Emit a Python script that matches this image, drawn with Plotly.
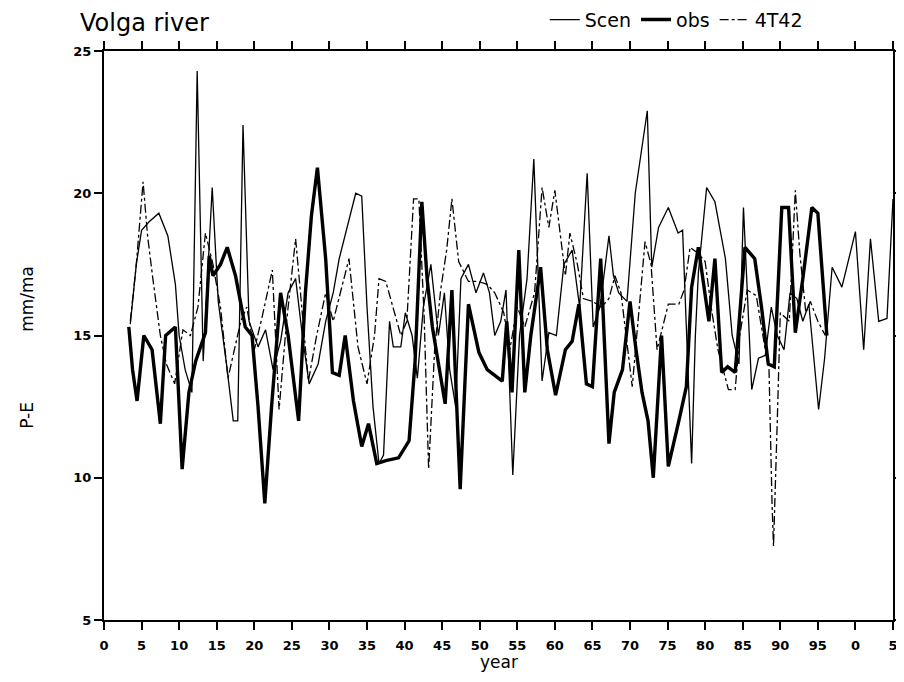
import plotly.graph_objects as go

# ---- data (years since 1900, P-E in mm/ma) ----
obs_years = [3.3, 3.8, 4.4, 5.3, 6.4, 7.5, 8.2, 9.5, 10.4, 11.3, 12.2, 13.5, 14.0, 14.5, 15.5, 16.4,
             17.5, 18.8, 19.7, 20.5, 21.4, 22.3, 23.5, 24.5, 25.9, 26.8, 27.6, 28.4, 29.5, 30.4, 31.3,
             32.1, 33.2, 34.3, 35.2, 36.3, 37.5, 39.2, 40.6, 41.4, 42.3, 43.0, 43.7, 44.5, 45.4, 46.3,
             46.8, 47.4, 48.5, 49.9, 51.0, 52.1, 53.0, 53.6, 54.3, 55.2, 56.0, 56.8, 58.1, 59.0, 60.1,
             61.4, 62.3, 63.2, 64.2, 65.0, 66.1, 67.2, 67.9, 69.0, 70.0, 70.8, 71.6, 72.4, 73.1, 74.2,
             75.1, 76.5, 77.5, 78.2, 79.1, 80.5, 81.3, 82.2, 83.0, 84.0, 85.3, 86.6, 87.5, 88.4, 89.2,
             90.2, 91.1, 92.0, 93.0, 94.2, 95.0, 96.2]
obs_vals = [15.3, 13.8, 12.7, 15.0, 14.5, 11.9, 15.0, 15.3, 10.3, 13.0, 14.1, 15.1, 17.8, 17.1, 17.5, 18.1,
            17.1, 15.3, 15.0, 12.5, 9.1, 12.5, 16.5, 15.0, 12.0, 16.5, 19.2, 20.9, 17.7, 13.7, 13.6,
            15.0, 12.7, 11.1, 11.9, 10.5, 10.6, 10.7, 11.3, 14.1, 19.7, 17.0, 15.3, 14.0, 12.6, 16.6,
            13.5, 9.6, 16.1, 14.4, 13.8, 13.6, 13.4, 15.5, 13.0, 18.0, 13.0, 15.0, 17.4, 14.5, 12.9,
            14.5, 14.8, 16.1, 13.3, 13.2, 17.7, 11.2, 13.0, 13.8, 16.2, 14.5, 13.0, 12.0, 10.0, 15.0,
            10.4, 12.0, 13.2, 16.7, 18.1, 15.5, 17.7, 13.7, 13.9, 13.7, 18.1, 17.7, 16.0, 14.0, 13.9,
            19.5, 19.5, 15.1, 17.0, 19.5, 19.3, 15.0]

scen_years = [3.5, 4.3, 5.0, 6.0, 7.3, 8.5, 9.5, 10.0, 10.8, 11.7, 12.4, 13.2, 14.4, 15.2, 16.3, 17.2,
              17.8, 18.5, 19.3, 20.5, 21.5, 22.5, 23.5, 24.5, 25.5, 26.4, 27.3, 28.5, 29.5, 30.5, 31.3,
              32.5, 33.5, 34.3, 35.0, 35.8, 36.6, 37.2, 38.0, 38.5, 39.5, 40.1, 41.0, 41.7, 42.5, 43.5,
              44.5, 45.3, 46.0, 46.8, 47.5, 48.5, 49.5, 50.5, 51.3, 52.0, 52.8, 53.5, 54.0, 54.4, 55.3,
              56.3, 57.2, 58.3, 59.2, 60.2, 61.2, 62.3, 63.3, 64.3, 65.1, 66.0, 67.2, 67.8, 68.5, 69.6,
              70.7, 71.5, 72.3, 72.9, 73.8, 75.1, 76.4, 77.0, 77.7, 78.2, 78.7, 79.1, 80.2, 81.3, 82.7,
              83.6, 84.5, 85.1, 86.2, 87.1, 88.0, 88.8, 89.6, 90.5, 91.3, 92.2, 93.0, 93.8, 95.1, 95.9,
              96.9, 98.2, 100.0, 101.1, 102.0, 103.1, 104.2, 105.0]
scen_vals = [15.4, 17.5, 18.7, 19.0, 19.3, 18.5, 16.8, 15.0, 13.8, 13.0, 24.3, 14.1, 20.2, 16.2, 14.0, 12.0,
             12.0, 22.4, 15.5, 14.6, 15.2, 13.8, 14.8, 16.5, 17.0, 15.0, 13.3, 14.0, 15.5, 16.5, 17.7,
             19.0, 20.0, 19.9, 16.0, 12.5, 10.5, 10.8, 15.5, 14.6, 14.6, 15.8, 15.0, 13.5, 16.0, 17.5,
             15.0, 16.5, 13.8, 12.5, 17.0, 17.5, 16.5, 17.2, 16.5, 15.0, 15.5, 16.6, 13.0, 10.1, 15.0,
             17.0, 21.2, 13.4, 15.1, 15.0, 17.5, 18.0, 16.0, 20.7, 15.3, 16.0, 18.5, 17.1, 16.5, 16.2,
             20.0, 21.5, 22.9, 17.4, 18.8, 19.5, 18.6, 18.7, 14.0, 10.5, 15.0, 17.2, 20.2, 19.7, 17.7,
             15.0, 14.0, 19.5, 13.1, 14.2, 14.3, 16.0, 15.0, 14.5, 16.5, 16.3, 15.5, 16.1, 12.4, 14.2,
             17.4, 16.7, 18.65, 14.5, 18.4, 15.5, 15.6, 19.8]

t42_years = [3.5, 4.3, 5.2, 5.8, 6.5, 7.5, 8.3, 9.4, 10.5, 11.5, 12.5, 13.5, 14.5, 15.5, 16.5, 17.3,
             18.2, 19.0, 20.0, 21.0, 22.4, 23.3, 24.3, 25.5, 26.3, 27.2, 28.3, 29.5, 30.5, 31.5, 32.6,
             33.8, 35.0, 36.0, 36.6, 37.5, 38.6, 39.5, 40.3, 41.2, 41.9, 42.6, 43.2, 44.0, 44.8, 45.6,
             46.3, 47.2, 48.5, 49.8, 51.0, 52.0, 53.2, 54.0, 55.0, 56.0, 57.3, 58.3, 59.2, 60.0, 61.4,
             62.0, 63.0, 63.8, 65.0, 66.2, 67.2, 68.0, 68.8, 70.3, 72.0, 72.8, 73.6, 75.1, 76.5, 77.2,
             78.0, 79.0, 80.0, 80.8, 81.7, 83.1, 84.0, 84.6, 85.6, 86.8, 88.0, 88.5, 88.9, 89.1, 89.6,
             90.0, 91.2, 92.0, 92.6, 93.4, 94.0, 95.0, 96.0]
t42_vals = [15.5, 17.5, 20.4, 18.5, 17.0, 15.0, 14.0, 13.3, 15.2, 15.0, 16.0, 18.6, 17.5, 16.0, 13.5, 14.5,
            15.5, 16.0, 14.5, 15.6, 17.3, 12.4, 15.5, 18.4, 16.0, 13.4, 15.0, 16.5, 15.5, 16.5, 17.7,
            14.6, 13.3, 15.0, 17.0, 16.9, 15.8, 15.0, 15.5, 19.8, 19.8, 15.7, 10.3, 14.5, 16.6, 18.0,
            19.8, 17.6, 16.9, 16.9, 16.8, 16.5, 15.8, 14.5, 16.0, 15.3, 16.5, 20.2, 18.8, 20.1, 17.1,
            18.6, 17.5, 16.3, 16.2, 16.0, 16.3, 17.1, 16.5, 13.2, 18.3, 17.5, 14.5, 16.1, 16.1, 16.6,
            18.1, 17.9, 17.6, 16.0, 14.5, 13.1, 13.1, 15.0, 16.6, 16.4, 14.5, 13.8, 9.1, 7.6, 12.0,
            15.8, 15.5, 20.1, 17.9, 15.8, 16.2, 15.5, 15.0]

x_tickvals = list(range(0, 106, 5))
x_ticktext = ["0", "5", "10", "15", "20", "25", "30", "35", "40", "45", "50", "55", "60", "65",
              "70", "75", "80", "85", "90", "95", "0", "5"]
y_tickvals = [5, 10, 15, 20, 25]

FONT = "DejaVu Sans"
# the page body has an 8px default margin; size the figure so the plot lands where it should
OFF = 8
W, H = 904 - OFF - 4, 682 - 2 * OFF

fig = go.Figure()
fig.add_trace(go.Scatter(x=scen_years, y=scen_vals, mode="lines", name="Scen",
                         line=dict(color="black", width=1.3)))
fig.add_trace(go.Scatter(x=obs_years, y=obs_vals, mode="lines", name="obs",
                         line=dict(color="black", width=3.4)))
fig.add_trace(go.Scatter(x=t42_years, y=t42_vals, mode="lines", name="4T42",
                         line=dict(color="black", width=1.3, dash="dashdot")))

fig.update_layout(
    width=W, height=H,
    margin=dict(l=104 - OFF, r=W - (893 - OFF), t=51 - OFF, b=H - (620 - OFF), autoexpand=False),
    paper_bgcolor="white", plot_bgcolor="white",
    font=dict(family=FONT, color="black"),
    title=dict(text="Volga river", x=(80 - OFF) / W, xanchor="left", y=1 - (23 - OFF) / H,
               yanchor="middle", font=dict(size=24, family=FONT, color="black")),
    showlegend=True,
    legend=dict(orientation="h", x=0.892, xanchor="right", y=1.055, yanchor="middle",
                font=dict(size=19, family=FONT), bgcolor="rgba(0,0,0,0)",
                itemwidth=30, tracegroupgap=0),
    xaxis=dict(range=[0, 105], tickvals=x_tickvals, ticktext=x_ticktext,
               ticks="outside", ticklen=8, tickwidth=1.5, tickcolor="black",
               showline=True, linecolor="black", linewidth=2, mirror="ticks",
               showgrid=False, zeroline=False, ticklabelstandoff=4,
               ticklabeloverflow="allow",
               tickfont=dict(size=13, family=FONT, weight="bold")),
    yaxis=dict(range=[5, 25], tickvals=y_tickvals,
               ticks="outside", ticklen=8, tickwidth=1.5, tickcolor="black",
               showline=True, linecolor="black", linewidth=2, mirror="ticks",
               showgrid=False, zeroline=False, ticklabeloverflow="allow",
               tickfont=dict(size=13, family=FONT, weight="bold")),
    annotations=[
        dict(text="year", xref="paper", yref="paper", x=0.5, y=-0.074, xanchor="center",
             yanchor="middle", showarrow=False, font=dict(size=17, family=FONT)),
        dict(text="P-E" + "\u00a0" * 13 + "mm/ma", xref="paper", yref="paper", x=-0.0976, y=0.48,
             xanchor="center", yanchor="middle", textangle=-90, showarrow=False,
             font=dict(size=17, family=FONT)),
    ],
)

fig.write_html("out.html")
